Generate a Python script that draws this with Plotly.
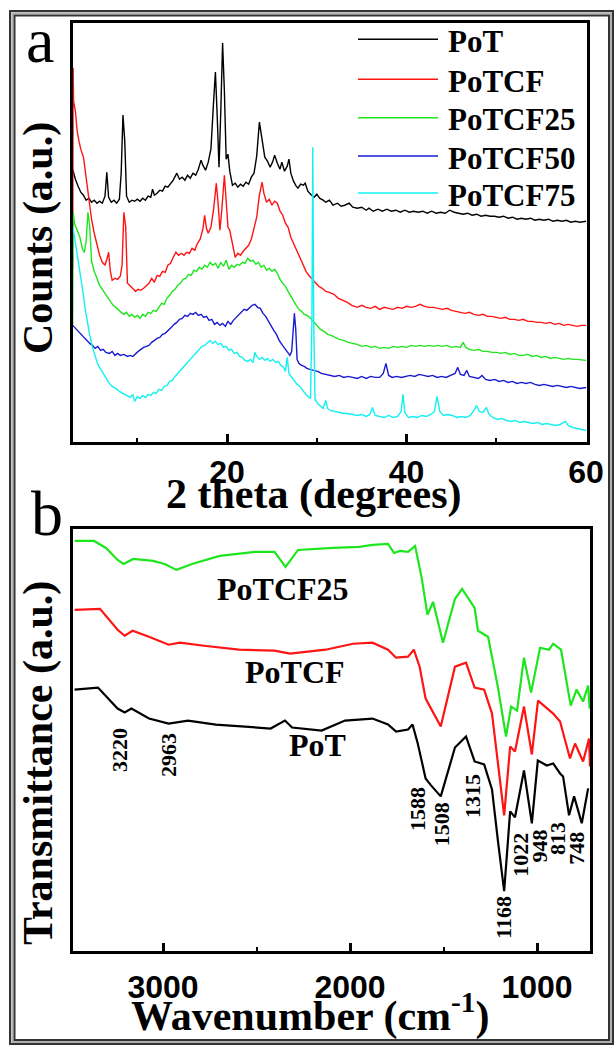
import plotly.graph_objects as go

# Layout positions below are given in reference-picture pixels (615 x 1046).
# The photographed page is about 632 px wide and is squeezed to 615 px; the body margin is
# removed, so px()/py() only have to undo that squeeze.
SQUEEZE = 615 / 632
FIG_W, FIG_H = 632, 1046

# ---------------- XRD data (2 theta in degrees, counts in a.u.) ----------------
xrd_names = ["PoT", "PoTCF", "PoTCF25", "PoTCF50", "PoTCF75"]
xrd_colors = ["#000000", "#ff1414", "#1ee61e", "#1a1ad2", "#14f0f0"]

xrd_pot = [
    (2.8, 272), (3.1, 262), (3.4, 255), (3.7, 249), (4.0, 246), (4.3, 241), (4.6, 243), (4.9, 239),
    (5.2, 241), (5.5, 238), (5.8, 240), (6.1, 238), (6.4, 245), (6.6, 269), (6.8, 244), (7.1, 239),
    (7.4, 241), (7.7, 238), (8.0, 242), (8.2, 268), (8.4, 326), (8.6, 300), (8.8, 245), (9.1, 239),
    (9.4, 241), (9.7, 240), (10.0, 242), (10.3, 240), (10.6, 243), (10.9, 241), (11.2, 245), (11.5, 244),
    (11.7, 252), (11.9, 246), (12.2, 248), (12.5, 251), (12.8, 250), (13.1, 255), (13.4, 254), (13.7, 258),
    (14.0, 261), (14.4, 268), (14.7, 262), (15.0, 264), (15.3, 261), (15.6, 266), (15.9, 263), (16.2, 268),
    (16.5, 266), (16.8, 272), (17.1, 281), (17.3, 276), (17.6, 271), (17.9, 279), (18.2, 292), (18.5, 340),
    (18.7, 369), (18.9, 325), (19.1, 274), (19.3, 330), (19.5, 398), (19.7, 350), (19.9, 282), (20.1, 287),
    (20.3, 270), (20.6, 256), (20.9, 258), (21.2, 254), (21.5, 257), (21.8, 255), (22.1, 259), (22.4, 257),
    (22.7, 264), (23.0, 268), (23.3, 285), (23.6, 319), (23.9, 300), (24.2, 284), (24.5, 280), (24.8, 274),
    (25.1, 280), (25.3, 286), (25.6, 278), (25.9, 272), (26.1, 279), (26.4, 270), (26.7, 275), (26.9, 282),
    (27.1, 268), (27.4, 260), (27.7, 255), (27.9, 253), (28.2, 257), (28.5, 256), (28.7, 258), (29.0, 250),
    (29.3, 247), (29.7, 244), (30.0, 247), (30.3, 243), (30.7, 241), (31.0, 239), (31.4, 241), (31.8, 236),
    (32.3, 238), (32.7, 235), (33.1, 236), (33.6, 238), (34.0, 234), (34.5, 233), (35.0, 234), (35.5, 231),
    (35.8, 233), (36.3, 230), (36.8, 232), (37.3, 230), (37.8, 232), (38.3, 230), (38.8, 231), (39.3, 229),
    (39.8, 231), (40.3, 229), (40.8, 230), (41.3, 229), (41.8, 230), (42.3, 228), (42.8, 230), (43.3, 228),
    (43.8, 229), (44.3, 228), (44.8, 231), (45.3, 229), (45.8, 228), (46.3, 227), (46.8, 228), (47.3, 226),
    (47.8, 227), (48.3, 225), (48.8, 226), (49.3, 225), (49.8, 225), (50.3, 224), (50.8, 225), (51.3, 223),
    (51.8, 224), (52.3, 222), (52.8, 223), (53.3, 222), (53.8, 223), (54.3, 221), (54.8, 222), (55.3, 221),
    (55.8, 222), (56.3, 220), (56.8, 221), (57.3, 220), (57.8, 221), (58.3, 219), (58.8, 220), (59.3, 219),
    (60.0, 220),
]

xrd_potcf = [
    (2.8, 173), (2.85, 373), (2.9, 340), (3.1, 330), (3.3, 310), (3.5, 300), (3.7, 292), (4.0, 284),
    (4.3, 262), (4.6, 240), (4.9, 222), (5.2, 208), (5.5, 196), (5.8, 186), (6.1, 179), (6.4, 176),
    (6.6, 182), (6.8, 189), (7.0, 170), (7.2, 161), (7.5, 163), (7.8, 162), (8.1, 165), (8.3, 176),
    (8.5, 229), (8.7, 215), (8.9, 158), (9.2, 155), (9.5, 153), (9.8, 150), (10.1, 152), (10.4, 151),
    (10.7, 153), (11.0, 156), (11.3, 158), (11.6, 163), (11.9, 159), (12.2, 166), (12.5, 165), (12.8, 170),
    (13.1, 169), (13.4, 176), (13.7, 178), (14.0, 184), (14.3, 189), (14.6, 186), (14.9, 188), (15.2, 186),
    (15.5, 189), (15.8, 188), (16.1, 193), (16.4, 191), (16.7, 198), (17.0, 202), (17.3, 212), (17.5, 226),
    (17.7, 213), (17.9, 208), (18.2, 214), (18.5, 232), (18.8, 258), (19.0, 238), (19.2, 211), (19.4, 230),
    (19.7, 266), (19.9, 240), (20.1, 214), (20.3, 211), (20.6, 196), (20.9, 184), (21.2, 188), (21.5, 186),
    (21.8, 190), (22.1, 193), (22.4, 196), (22.7, 202), (23.0, 212), (23.3, 224), (23.6, 246), (23.9, 259),
    (24.1, 248), (24.4, 239), (24.7, 242), (25.0, 236), (25.3, 240), (25.6, 238), (25.9, 230), (26.2, 226),
    (26.5, 218), (26.8, 214), (27.1, 204), (27.4, 198), (27.7, 192), (27.9, 189), (28.2, 182), (28.5, 176),
    (28.8, 170), (29.1, 166), (29.3, 164), (29.6, 160), (29.9, 158), (30.2, 155), (30.6, 153), (31.0, 150),
    (31.4, 149), (31.9, 147), (32.4, 143), (32.9, 141), (33.4, 139), (33.9, 136), (34.5, 134), (35.0, 136),
    (35.5, 134), (36.0, 133), (36.5, 135), (37.0, 132), (37.5, 134), (38.0, 133), (38.5, 132), (39.0, 134),
    (39.5, 133), (40.0, 135), (40.5, 134), (41.0, 135), (41.5, 137), (42.0, 135), (42.5, 134), (43.0, 134),
    (43.5, 133), (44.0, 132), (44.5, 133), (45.0, 131), (45.5, 130), (46.0, 129), (46.5, 128), (47.0, 129),
    (47.5, 127), (48.0, 126), (48.5, 127), (49.0, 125), (49.5, 125), (50.0, 124), (50.5, 123), (51.0, 124),
    (51.5, 122), (52.0, 122), (52.5, 121), (53.0, 122), (53.5, 120), (54.0, 120), (54.5, 119), (55.0, 119),
    (55.5, 118), (56.0, 119), (56.5, 117), (57.0, 118), (57.5, 116), (58.0, 117), (58.5, 116), (59.0, 115),
    (59.5, 116), (60.0, 116),
]

xrd_potcf25 = [
    (2.8, 116), (2.85, 229), (3.0, 218), (3.3, 210), (3.6, 204), (3.9, 192), (4.1, 189), (4.3, 200),
    (4.5, 229), (4.7, 215), (4.9, 180), (5.2, 170), (5.5, 162), (5.8, 156), (6.1, 152), (6.4, 148),
    (6.7, 144), (7.0, 140), (7.3, 136), (7.6, 134), (7.9, 131), (8.2, 129), (8.5, 127), (8.8, 129),
    (9.1, 125), (9.4, 127), (9.7, 124), (10.0, 126), (10.3, 123), (10.6, 127), (10.9, 125), (11.2, 129),
    (11.5, 128), (11.8, 131), (12.1, 130), (12.4, 134), (12.7, 138), (13.0, 137), (13.3, 143), (13.6, 146),
    (13.9, 150), (14.2, 152), (14.5, 156), (14.8, 158), (15.1, 162), (15.4, 163), (15.7, 167), (16.0, 166),
    (16.3, 171), (16.6, 170), (16.9, 174), (17.2, 172), (17.5, 176), (17.8, 174), (18.1, 179), (18.4, 176),
    (18.7, 178), (19.0, 173), (19.3, 179), (19.6, 175), (19.9, 181), (20.2, 172), (20.5, 176), (20.8, 174),
    (21.1, 177), (21.4, 176), (21.7, 179), (22.0, 178), (22.3, 183), (22.6, 180), (22.9, 181), (23.2, 177),
    (23.5, 179), (23.8, 174), (24.1, 176), (24.4, 171), (24.7, 173), (25.0, 170), (25.3, 172), (25.6, 168),
    (25.9, 162), (26.2, 158), (26.5, 155), (26.8, 150), (27.1, 145), (27.4, 140), (27.7, 136), (28.0, 132),
    (28.3, 130), (28.6, 127), (28.9, 126), (29.2, 124), (29.5, 121), (29.8, 117), (30.1, 114), (30.4, 112),
    (30.8, 110), (31.2, 107), (31.6, 106), (32.0, 104), (32.5, 102), (33.0, 101), (33.5, 99), (34.0, 98),
    (34.5, 97), (35.0, 95), (35.5, 96), (36.0, 94), (36.5, 95), (37.0, 93), (37.5, 94), (38.0, 93),
    (38.5, 95), (39.0, 94), (39.5, 95), (40.0, 94), (40.5, 96), (41.0, 95), (41.5, 96), (42.0, 95),
    (42.5, 96), (43.0, 95), (43.5, 96), (44.0, 95), (44.5, 96), (45.0, 94), (45.5, 95), (46.0, 94),
    (46.3, 99), (46.6, 94), (47.0, 92), (47.5, 91), (48.0, 92), (48.5, 90), (49.0, 90), (49.5, 89),
    (50.0, 89), (50.5, 88), (51.0, 89), (51.5, 87), (52.0, 88), (52.5, 86), (53.0, 86), (53.5, 87),
    (54.0, 85), (54.5, 86), (55.0, 84), (55.5, 85), (56.0, 83), (56.5, 84), (57.0, 83), (57.5, 82),
    (58.0, 83), (58.5, 82), (59.0, 82), (60.0, 81),
]

xrd_potcf50 = [
    (2.8, 116), (3.1, 113), (3.4, 110), (3.7, 107), (4.0, 104), (4.3, 101), (4.7, 98), (5.0, 96),
    (5.3, 93), (5.6, 95), (5.9, 91), (6.2, 92), (6.5, 89), (6.9, 88), (7.2, 90), (7.5, 86),
    (7.8, 88), (8.1, 86), (8.5, 87), (8.9, 85), (9.2, 86), (9.5, 85), (9.8, 88), (10.1, 90),
    (10.4, 92), (10.7, 94), (11.0, 95), (11.3, 96), (11.6, 99), (11.9, 101), (12.2, 103), (12.5, 104),
    (12.8, 107), (13.1, 108), (13.5, 111), (13.8, 114), (14.1, 117), (14.4, 119), (14.7, 122), (15.0, 123),
    (15.3, 126), (15.6, 125), (15.9, 128), (16.2, 127), (16.5, 129), (16.8, 126), (17.1, 127), (17.4, 124),
    (17.7, 125), (18.0, 121), (18.3, 122), (18.6, 117), (18.9, 119), (19.2, 116), (19.5, 118), (19.8, 115),
    (20.1, 120), (20.4, 117), (20.7, 121), (21.0, 124), (21.3, 127), (21.6, 130), (21.9, 132), (22.2, 131),
    (22.5, 134), (22.8, 136), (23.1, 137), (23.4, 134), (23.7, 133), (24.0, 128), (24.3, 125), (24.6, 120),
    (24.9, 116), (25.2, 111), (25.5, 107), (25.8, 101), (26.1, 97), (26.4, 93), (26.7, 90), (27.0, 86),
    (27.2, 90), (27.4, 116), (27.5, 128), (27.65, 112), (27.8, 82), (28.0, 78), (28.3, 76), (28.6, 75),
    (28.9, 73), (29.2, 72), (29.7, 71), (30.1, 70), (30.5, 68), (31.0, 67), (31.5, 66), (32.0, 65),
    (32.5, 66), (33.0, 64), (33.5, 65), (34.0, 64), (34.5, 63), (35.0, 65), (35.5, 63), (36.0, 65),
    (36.5, 64), (37.0, 64), (37.4, 68), (37.7, 78), (38.0, 66), (38.4, 64), (38.9, 65), (39.4, 64),
    (39.9, 65), (40.4, 66), (40.9, 65), (41.4, 67), (41.9, 66), (42.4, 65), (42.9, 66), (43.4, 64),
    (43.9, 65), (44.4, 64), (44.9, 66), (45.4, 68), (45.7, 74), (46.0, 67), (46.4, 66), (46.7, 71),
    (47.0, 65), (47.5, 64), (48.0, 63), (48.4, 66), (48.8, 62), (49.3, 61), (49.8, 62), (50.3, 60),
    (50.8, 61), (51.3, 59), (51.8, 60), (52.3, 58), (52.8, 59), (53.3, 58), (53.8, 59), (54.3, 57),
    (54.8, 56), (55.3, 57), (55.8, 56), (56.3, 55), (56.8, 56), (57.3, 55), (57.8, 54), (58.3, 55),
    (58.8, 54), (59.3, 53), (60.0, 54),
]

xrd_potcf75 = [
    (2.8, 216), (3.0, 205), (3.2, 192), (3.4, 180), (3.6, 170), (3.8, 160), (4.0, 146), (4.2, 132),
    (4.4, 120), (4.7, 106), (5.0, 94), (5.3, 85), (5.6, 77), (6.0, 71), (6.4, 65), (6.8, 59),
    (7.2, 55), (7.6, 53), (8.0, 50), (8.4, 48), (8.8, 46), (9.2, 44), (9.5, 47), (9.7, 40),
    (10.0, 45), (10.3, 43), (10.6, 46), (10.9, 44), (11.2, 47), (11.5, 46), (11.8, 49), (12.1, 48),
    (12.4, 52), (12.7, 51), (13.0, 55), (13.3, 56), (13.6, 60), (13.9, 61), (14.2, 65), (14.5, 68),
    (14.8, 72), (15.1, 75), (15.4, 78), (15.7, 80), (16.0, 84), (16.3, 86), (16.6, 90), (16.9, 92),
    (17.2, 95), (17.5, 96), (17.8, 99), (18.1, 101), (18.4, 98), (18.7, 100), (19.0, 97), (19.3, 98),
    (19.6, 94), (19.9, 95), (20.2, 91), (20.5, 92), (20.8, 88), (21.1, 89), (21.4, 85), (21.7, 84),
    (22.0, 81), (22.3, 80), (22.6, 82), (22.9, 79), (23.1, 89), (23.3, 85), (23.6, 82), (23.9, 84),
    (24.2, 81), (24.5, 83), (24.8, 80), (25.1, 82), (25.4, 79), (25.7, 80), (26.0, 76), (26.3, 74),
    (26.5, 70), (26.7, 84), (26.9, 68), (27.2, 64), (27.5, 61), (27.8, 57), (28.1, 55), (28.4, 51),
    (28.7, 48), (29.0, 45), (29.3, 43), (29.45, 120), (29.55, 294), (29.65, 120), (29.8, 42), (30.1, 38),
    (30.4, 35), (30.7, 33), (31.0, 41), (31.2, 33), (31.5, 31), (32.0, 30), (32.5, 29), (33.0, 28),
    (33.5, 28), (34.0, 27), (34.5, 26), (35.0, 27), (35.5, 25), (35.9, 27), (36.2, 34), (36.5, 26),
    (37.0, 25), (37.5, 24), (38.0, 26), (38.5, 24), (39.0, 25), (39.4, 30), (39.6, 47), (39.8, 29),
    (40.2, 24), (40.7, 25), (41.2, 24), (41.7, 26), (42.2, 25), (42.7, 27), (43.1, 30), (43.4, 45),
    (43.7, 30), (44.1, 26), (44.6, 27), (45.1, 26), (45.6, 24), (46.1, 25), (46.6, 24), (47.1, 26),
    (47.5, 31), (47.8, 36), (48.1, 30), (48.5, 29), (48.9, 34), (49.2, 27), (49.6, 24), (50.1, 22),
    (50.6, 23), (51.1, 21), (51.6, 20), (52.1, 21), (52.6, 19), (53.1, 20), (53.6, 19), (54.1, 18),
    (54.6, 19), (55.1, 17), (55.6, 18), (56.1, 17), (56.6, 16), (57.1, 17), (57.7, 20), (58.0, 16),
    (58.5, 14), (59.0, 13), (59.5, 12), (60.0, 11),
]

xrd_series = [xrd_pot, xrd_potcf, xrd_potcf25, xrd_potcf50, xrd_potcf75]

# ---------------- FTIR data (wavenumber in cm-1, transmittance in a.u.) ----------------
ftir_names = ["PoTCF25", "PoTCF", "PoT"]
ftir_colors = ["#1ee61e", "#ff1414", "#000000"]

ftir_potcf25 = [
    (3473, 411), (3369, 411), (3305, 404), (3243, 392), (3211, 388), (3159, 393), (3053, 391), (2991, 388),
    (2928, 382), (2845, 388), (2697, 396), (2600, 398), (2508, 400), (2404, 400), (2345, 385), (2278, 402),
    (2200, 403), (2091, 404), (1950, 405), (1880, 407), (1797, 408), (1765, 399), (1733, 401), (1690, 400),
    (1652, 406), (1617, 374), (1586, 337), (1556, 350), (1503, 309), (1439, 353), (1401, 363), (1334, 344),
    (1316, 321), (1262, 315), (1209, 264), (1166, 215), (1139, 245), (1107, 241), (1070, 294), (1032, 259),
    (984, 304), (936, 302), (914, 308), (872, 302), (820, 246), (789, 262), (754, 250), (727, 266), (719, 243),
]

ftir_potcf = [
    (3473, 342), (3337, 343), (3243, 322), (3205, 316), (3163, 321), (3075, 315), (2970, 307), (2909, 309),
    (2781, 306), (2594, 302), (2404, 301), (2321, 298), (2131, 302), (1984, 308), (1880, 309), (1797, 302),
    (1754, 294), (1690, 295), (1659, 302), (1628, 285), (1596, 253), (1567, 243), (1515, 225), (1439, 285),
    (1380, 289), (1334, 264), (1283, 262), (1241, 238), (1209, 187), (1176, 136), (1144, 205), (1118, 200),
    (1070, 245), (1028, 197), (995, 251), (914, 238), (877, 230), (824, 193), (797, 208), (754, 190),
    (722, 213), (717, 185),
]

ftir_pot = [
    (3473, 262), (3348, 264), (3243, 243), (3205, 239), (3169, 243), (3075, 233), (2970, 228), (2866, 231),
    (2718, 227), (2530, 224), (2425, 223), (2348, 231), (2310, 224), (2152, 221), (2027, 231), (1880, 233),
    (1797, 227), (1754, 220), (1690, 222), (1666, 227), (1638, 208), (1596, 173), (1567, 166), (1515, 155),
    (1439, 204), (1380, 215), (1334, 190), (1283, 187), (1241, 162), (1209, 110), (1176, 60), (1144, 140),
    (1118, 134), (1070, 181), (1028, 128), (996, 191), (948, 186), (914, 188), (877, 178), (861, 175),
    (829, 136), (802, 155), (761, 128), (727, 163),
]

ftir_series = [ftir_potcf25, ftir_potcf, ftir_pot]

# sample labels inside panel b (wavenumber, transmittance)
ftir_label_pos = [(2358, 363), (2294, 280), (2173, 206)]

# peak labels of panel b
peak_labels = ["3220", "2963", "1588", "1508", "1315", "1168", "1022", "948", "813", "748"]
peak_label_pos = [(3232, 201), (2970, 196), (1639, 142), (1514, 127), (1345, 155),
                  (1184, 34), (1088, 96), (989, 105), (890, 113), (789, 103)]


# ---------------- helpers (reference pixel -> paper fraction) ----------------
def px(p):
    return (p / SQUEEZE) / FIG_W


def py(p):
    return 1 - p / FIG_H


SERIF = "Liberation Serif, Times New Roman, serif"
SANS = "Liberation Sans, Arial, sans-serif"

fig = go.Figure()

for name, color, data in zip(xrd_names, xrd_colors, xrd_series):
    fig.add_trace(go.Scatter(
        x=[p[0] for p in data], y=[p[1] for p in data], mode="lines", name=name,
        line=dict(color=color, width=1.4), xaxis="x", yaxis="y", showlegend=False))

for name, color, data in zip(ftir_names, ftir_colors, ftir_series):
    fig.add_trace(go.Scatter(
        x=[p[0] for p in data], y=[p[1] for p in data], mode="lines", name=name,
        line=dict(color=color, width=2.2), xaxis="x2", yaxis="y2", showlegend=False))

axis_common = dict(showline=True, linewidth=3, linecolor="black", mirror=True,
                   showgrid=False, zeroline=False)

fig.update_layout(
    width=FIG_W, height=FIG_H, margin=dict(l=0, r=0, t=0, b=0),
    paper_bgcolor="white", plot_bgcolor="white",
    xaxis=dict(domain=[px(72.7), px(587)], anchor="y", range=[2.8, 60.1],
               tickmode="linear", tick0=0, dtick=20, ticks="inside", ticklen=8, tickwidth=2.5,
               tickcolor="black", minor=dict(ticks="inside", ticklen=4, tickwidth=2, dtick=10, tick0=0,
                                             tickcolor="black"),
               tickfont=dict(family=SANS, size=32, color="black", weight="bold"), **axis_common),
    yaxis=dict(domain=[py(441.5), py(23)], anchor="x", range=[0, 418], showticklabels=False,
               ticks="", **axis_common),
    xaxis2=dict(domain=[px(72.7), px(590)], anchor="y2", range=[3483, 717],
                tickmode="linear", tick0=0, dtick=1000, ticks="inside", ticklen=8, tickwidth=2.5,
                tickcolor="black", minor=dict(ticks="inside", ticklen=4, tickwidth=2, dtick=500, tick0=0,
                                              tickcolor="black"),
                ticklabelstandoff=6,
                tickfont=dict(family=SANS, size=32, color="black", weight="bold"), **axis_common),
    yaxis2=dict(domain=[py(951), py(529)], anchor="x2", range=[0, 423], showticklabels=False,
                ticks="", **axis_common),
)

ann = []
# axis titles
title_font = dict(family=SERIF, size=42, color="black", weight="bold")
ann.append(dict(text="2 theta (degrees)", x=px(313), y=py(494), xref="paper", yref="paper",
                showarrow=False, xanchor="center", yanchor="middle", font=title_font))
ann.append(dict(text="Wavenumber (cm<sup>-1</sup>)", x=px(310), y=py(1013), xref="paper", yref="paper",
                showarrow=False, xanchor="center", yanchor="middle", font=title_font))
ann.append(dict(text="Counts (a.u.)", x=px(39), y=py(238), xref="paper", yref="paper",
                showarrow=False, xanchor="center", yanchor="middle", textangle=-90, font=title_font))
ann.append(dict(text="Transmittance (a.u.)", x=px(38), y=py(763), xref="paper", yref="paper",
                showarrow=False, xanchor="center", yanchor="middle", textangle=-90, font=title_font))
# panel letters
ann.append(dict(text="a", x=px(40), y=py(41), xref="paper", yref="paper", showarrow=False,
                xanchor="center", yanchor="middle", font=dict(family=SERIF, size=64, color="black")))
ann.append(dict(text="b", x=px(47), y=py(513), xref="paper", yref="paper", showarrow=False,
                xanchor="center", yanchor="middle", font=dict(family=SERIF, size=64, color="black")))

# custom legend for panel a
legend_rows = [39.3, 79.3, 117.7, 156.0, 193.0]
shapes = []
for name, color, ry in zip(xrd_names, xrd_colors, legend_rows):
    shapes.append(dict(type="line", xref="paper", yref="paper", x0=px(358), x1=px(438),
                       y0=py(ry), y1=py(ry), line=dict(color=color, width=1.5)))
    ann.append(dict(text=name, x=px(446), y=py(ry + 2), xref="paper", yref="paper", showarrow=False,
                    xanchor="left", yanchor="middle",
                    font=dict(family=SERIF, size=31, color="black", weight="bold")))

# labels inside panel b
for name, (lx, ly) in zip(ftir_names, ftir_label_pos):
    ann.append(dict(text=name, x=lx, y=ly, xref="x2", yref="y2", showarrow=False,
                    xanchor="center", yanchor="middle",
                    font=dict(family=SERIF, size=32, color="black", weight="bold")))
for lab, (lx, ly) in zip(peak_labels, peak_label_pos):
    ann.append(dict(text=lab, x=lx, y=ly, xref="x2", yref="y2", showarrow=False, textangle=-90,
                    xanchor="center", yanchor="middle",
                    font=dict(family=SERIF, size=22, color="black", weight="bold")))

# outer double border
shapes.append(dict(type="rect", xref="paper", yref="paper", x0=px(10), x1=px(613), y0=py(1044), y1=py(11),
                   line=dict(color="#333333", width=2)))
shapes.append(dict(type="rect", xref="paper", yref="paper", x0=px(12.3), x1=px(611), y0=py(1042), y1=py(13.2),
                   line=dict(color="#b0b0b0", width=2)))
shapes.append(dict(type="rect", xref="paper", yref="paper", x0=px(14.5), x1=px(609), y0=py(1040), y1=py(15.5),
                   line=dict(color="#333333", width=2)))

fig.update_layout(annotations=ann, shapes=shapes)

fig.write_html(
    "out.html",
    config={"displayModeBar": False},
    post_script="document.body.style.margin='0';document.body.style.overflow='hidden';",
)
